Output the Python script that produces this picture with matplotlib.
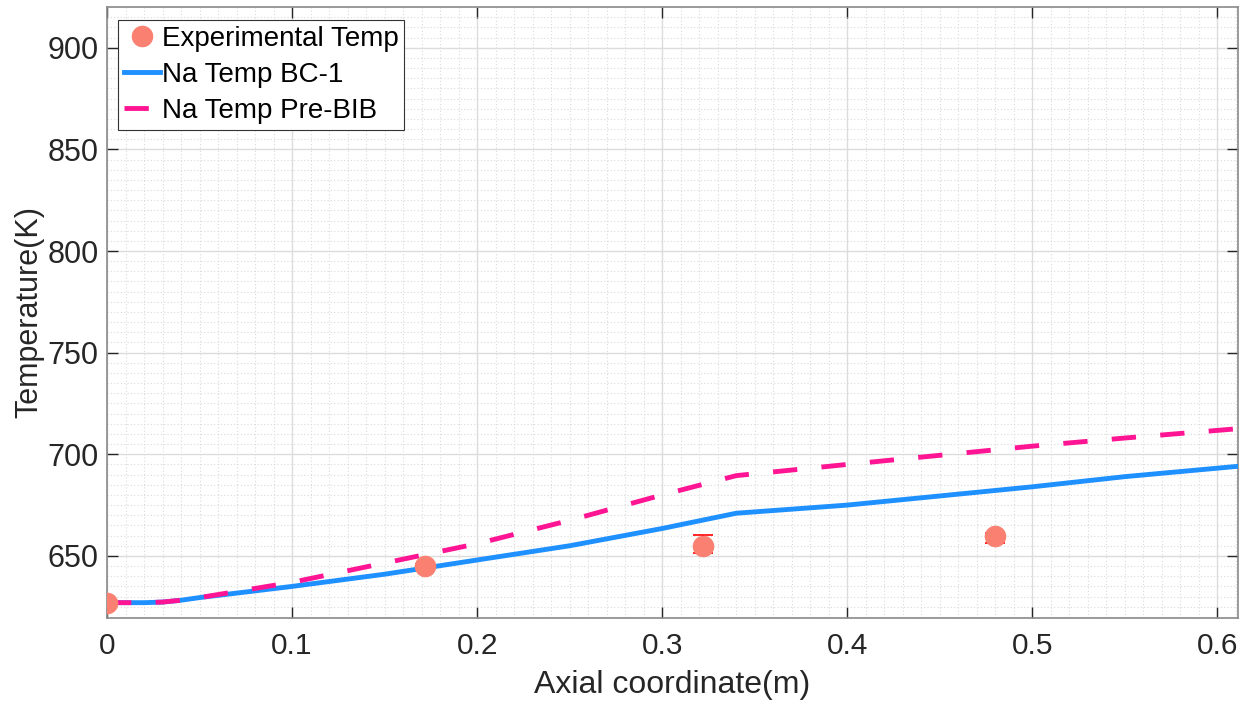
import numpy as np
import matplotlib.pyplot as plt
from matplotlib.ticker import MultipleLocator

plt.rcParams['font.family'] = ['Liberation Sans', 'DejaVu Sans']

# Data titik eksperimen
x_exp = [0.0, 0.172, 0.322, 0.48]
t_exp = [627, 645, 655, 660]
err_bawah = [1, 1, 3.7, 3.5]
err_atas = [1, 1, 5.4, 1.5]

# Kurva simulasi
x_sim = [0.0, 0.02, 0.03, 0.04, 0.05, 0.1, 0.15, 0.2, 0.25, 0.3, 0.34, 0.4, 0.45, 0.5, 0.55, 0.61]
t_bc1 = [627, 627, 627.3, 628.2, 629.5, 635, 641, 648, 655, 663.5, 671, 675, 679.5, 684, 689, 694]
t_prebib = [627, 627, 627.3, 628.2, 629.5, 637, 646.5, 656, 667.5, 680, 689.5, 695, 699.5, 704, 708, 712.5]

fig = plt.figure(figsize=(12.49, 7.07), dpi=100)
ax = fig.add_axes([0.0857, 0.126, 0.9053, 0.864])

ax.plot(x_sim, t_bc1, color='#1E90FF', lw=3.5, label='Na Temp BC-1', zorder=3)
ax.plot(x_sim, t_prebib, color='#FF1493', lw=3.5, linestyle=(0, (5.0, 5.0)),
        label='Na Temp Pre-BIB', zorder=4)
ax.errorbar(x_exp, t_exp, yerr=[err_bawah, err_atas], fmt='none', ecolor='red',
            elinewidth=1.2, capsize=7, capthick=1.2, zorder=5)
ax.plot(x_exp, t_exp, 'o', color='#FA8072', markersize=14.5, label='Experimental Temp', zorder=6)

ax.set_xlim(0, 0.611)
ax.set_ylim(619.5, 920)
ax.xaxis.set_minor_locator(MultipleLocator(0.01))
ax.yaxis.set_major_locator(MultipleLocator(50))
ax.yaxis.set_minor_locator(MultipleLocator(5))
ax.set_xticks([0, 0.1, 0.2, 0.3, 0.4, 0.5, 0.6])
ax.set_xticklabels(['0', '0.1', '0.2', '0.3', '0.4', '0.5', '0.6'])

ax.grid(which='major', color='#dcdcdc', lw=1.0)
ax.grid(which='minor', color='#dadada', lw=0.8, linestyle=(0, (1, 2)))
ax.set_axisbelow(True)

ax.tick_params(which='both', direction='in', top=True, right=True, colors='#262626')
ax.tick_params(which='major', length=8, width=1)
ax.tick_params(which='minor', length=0)
ax.tick_params(axis='x', labelsize=21.5, pad=10)
ax.tick_params(axis='y', labelsize=22, pad=6)
for s in ax.spines.values():
    s.set_color('#8a8a8a')
    s.set_linewidth(1.2)

ax.set_xlabel('Axial coordinate(m)', fontsize=23, color='#262626', labelpad=7)
ax.set_ylabel('Temperature(K)', fontsize=22, color='#262626', labelpad=2)

h, l = ax.get_legend_handles_labels()
urutan = [2, 0, 1]
leg = ax.legend([h[i] for i in urutan], [l[i] for i in urutan], loc='upper left',
                bbox_to_anchor=(0.0097, 0.979), borderaxespad=0, fontsize=20,
                fancybox=False, framealpha=1, edgecolor='#333333',
                handlelength=1.3, handletextpad=0.05, borderpad=0.22,
                labelspacing=0.36)
leg.get_frame().set_linewidth(0.8)

fig.savefig('out.png', dpi=100)
